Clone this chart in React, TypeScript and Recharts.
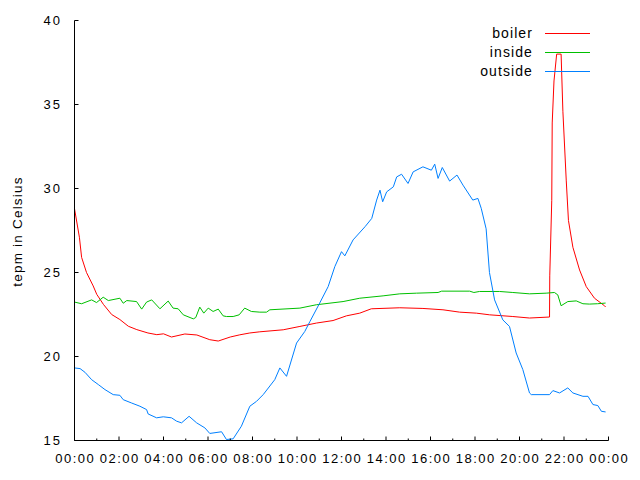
import { LineChart, Line, XAxis, YAxis, Legend } from "recharts";

// hours on the x axis (0 = 00:00, 24 = next 00:00)
const hourTicks = [0, 1, 2, 3, 4, 5, 6, 7, 8, 9, 10, 11, 12, 13, 14, 15, 16, 17, 18, 19, 20, 21, 22, 23, 24];
const tempTicks = [15, 20, 25, 30, 35, 40];

const boilerHours = [
  0, 0.22, 0.32, 0.54, 0.84, 1.0, 1.3, 1.67, 2.04, 2.42, 2.8, 3.3, 3.7, 4.0, 4.36, 4.96, 5.5, 6.08, 6.46,
  7.0, 7.43, 7.88, 8.33, 9.38, 10.13, 10.87, 11.62, 12.22, 12.82, 13.34, 14.62, 15.66, 16.56, 17.31,
  18.06, 18.66, 19.7, 20.45, 21.35, 21.36, 21.45, 21.47, 21.55, 21.67, 21.87, 21.95, 22.1, 22.2, 22.4,
  22.7, 23.0, 23.37, 23.82, 23.87,
];
const boilerTemps = [
  28.8, 27.1, 25.9, 25.0, 24.2, 23.7, 23.1, 22.5, 22.2, 21.8, 21.6, 21.4, 21.3, 21.35, 21.16, 21.34, 21.28,
  21.0, 20.92, 21.16, 21.29, 21.4, 21.47, 21.59, 21.79, 21.99, 22.14, 22.42, 22.58, 22.84, 22.9, 22.86,
  22.78, 22.64, 22.58, 22.48, 22.38, 22.29, 22.35, 24.8, 29.3, 33.9, 36.4, 38.0, 38.0, 34.6, 30.5, 28.1,
  26.5, 25.15, 24.16, 23.47, 23.02, 22.95,
];

const insideHours = [
  0, 0.32, 0.77, 0.99, 1.29, 1.52, 2.04, 2.19, 2.35, 2.79, 3.02, 3.24, 3.47, 3.84, 4.21, 4.43, 4.66, 4.89,
  5.34, 5.45, 5.63, 5.81, 6.01, 6.23, 6.46, 6.68, 6.83, 7.13, 7.4, 7.65, 7.95, 8.33, 8.63, 8.78, 10.13,
  10.87, 12.07, 12.82, 13.87, 14.62, 15.37, 16.34, 16.5, 17.76, 17.95, 18.2, 19.1, 19.7, 20.45, 21.2,
  21.57, 21.72, 21.87, 22.17, 22.55, 22.85, 23.14, 23.5, 23.87,
];
const insideTemps = [
  23.24, 23.14, 23.37, 23.21, 23.53, 23.33, 23.47, 23.17, 23.33, 23.27, 22.82, 23.24, 23.37, 22.84, 23.3,
  22.88, 22.84, 22.48, 22.24, 22.32, 22.94, 22.58, 22.88, 22.68, 22.82, 22.42, 22.38, 22.38, 22.48, 22.88,
  22.68, 22.64, 22.64, 22.78, 22.88, 23.08, 23.27, 23.47, 23.61, 23.73, 23.77, 23.81, 23.89, 23.89, 23.81,
  23.87, 23.87, 23.81, 23.73, 23.77, 23.81, 23.67, 23.02, 23.27, 23.31, 23.14, 23.12, 23.14, 23.18,
];

const outsideHours = [
  0, 0.25, 0.47, 0.77, 1.07, 1.37, 1.74, 2.04, 2.19, 2.57, 2.94, 3.24, 3.31, 3.69, 3.99, 4.36, 4.59, 4.81,
  5.15, 5.49, 5.86, 6.08, 6.61, 6.83, 7.13, 7.5, 7.88, 8.18, 8.48, 9.0, 9.23, 9.53, 9.98, 10.35, 10.58,
  11.02, 11.4, 11.7, 12.0, 12.15, 12.52, 13.06, 13.36, 13.58, 13.73, 13.85, 14.03, 14.33, 14.48, 14.7,
  14.99, 15.22, 15.66, 16.04, 16.19, 16.34, 16.53, 16.86, 17.19, 17.46, 17.9, 18.13, 18.28, 18.5, 18.65,
  18.88, 19.25, 19.55, 19.85, 20.15, 20.45, 20.53, 21.35, 21.5, 21.8, 22.17, 22.4, 22.85, 23.08, 23.3,
  23.52, 23.68, 23.87,
];
const outsideTemps = [
  19.32, 19.28, 19.06, 18.62, 18.33, 18.03, 17.73, 17.69, 17.43, 17.23, 17.04, 16.84, 16.58, 16.35, 16.41,
  16.35, 16.15, 16.05, 16.44, 16.05, 15.75, 15.42, 15.52, 15.06, 15.1, 15.85, 17.04, 17.33, 17.73, 18.62,
  19.32, 18.82, 20.8, 21.49, 22.08, 23.18, 24.16, 25.35, 26.24, 25.99, 26.94, 27.73, 28.22, 29.31, 29.9,
  29.21, 29.8, 30.1, 30.69, 30.85, 30.3, 30.99, 31.29, 31.09, 31.45, 30.6, 31.25, 30.44, 30.8, 30.2, 29.31,
  29.41, 28.82, 27.6, 25.0, 23.37, 22.18, 21.79, 20.21, 19.22, 17.83, 17.73, 17.73, 17.97, 17.83, 18.13,
  17.83, 17.63, 17.63, 17.14, 17.08, 16.74, 16.7,
];

const toPoints = (hours: number[], temps: number[]) => hours.map((h, i) => ({ hour: h, temp: temps[i] }));

const seriesList = [
  { name: "boiler", color: "#ff0000", data: toPoints(boilerHours, boilerTemps) },
  { name: "inside", color: "#00c000", data: toPoints(insideHours, insideTemps) },
  { name: "outside", color: "#0080ff", data: toPoints(outsideHours, outsideTemps) },
];

const FONT = '"Liberation Sans", Arial, sans-serif';
const NUM_LS = 1.5;
const WORD_LS = 1.2;
const numStyle = { fontFamily: FONT, fontSize: 13, letterSpacing: NUM_LS, fill: "#000" };
const yNumStyle = { fontFamily: FONT, fontSize: 13, letterSpacing: 2, fill: "#000" };
const wordStyle = { fontFamily: FONT, fontSize: 13.5, letterSpacing: WORD_LS, fill: "#000" };

const fmtHour = (h: number) => `${String(h % 24).padStart(2, "0")}:00`;

// gnuplot style: ticks point into the plot box
const BottomTick = ({ x, y, payload }: any) => {
  const major = payload.value % 2 === 0;
  return (
    <g>
      <line x1={x} x2={x} y1={y} y2={y - (major ? 4 : 2)} stroke="#000" />
      {major && (
        <text x={x + NUM_LS / 2} y={y + 22.8} textAnchor="middle" style={numStyle}>
          {fmtHour(payload.value)}
        </text>
      )}
    </g>
  );
};

const TopTick = ({ x, y, payload }: any) => {
  const major = payload.value % 2 === 0;
  return <line x1={x} x2={x} y1={y} y2={y + (major ? 4 : 2)} stroke="#000" />;
};

const LeftTick = ({ x, y, payload }: any) => (
  <g>
    <line x1={x} x2={x + 4} y1={y} y2={y} stroke="#000" />
    <text x={x - 14.5 + 2} y={y + 4.6} textAnchor="end" style={yNumStyle}>
      {payload.value}
    </text>
  </g>
);

const RightTick = ({ x, y }: any) => <line x1={x} x2={x - 4} y1={y} y2={y} stroke="#000" />;

const YTitle = () => (
  <text x={22} y={231.5} transform="rotate(-90 22 231.5)" textAnchor="middle" style={wordStyle}>
    tepm in Celsius
  </text>
);

const LegendBox = ({ payload }: any) => (
  <div style={{ position: "relative", width: 640, height: 0 }}>
    {(payload ?? []).map((entry: any, i: number) => (
      <div
        key={entry.value}
        style={{ position: "absolute", left: 0, top: 25 + i * 19, width: 640, height: 16 }}
      >
        <span
          style={{
            position: "absolute",
            right: 640 - 533,
            top: 0,
            lineHeight: "16px",
            fontFamily: FONT,
            fontSize: 14,
            letterSpacing: 1.1,
            color: "#000",
            whiteSpace: "nowrap",
          }}
        >
          {entry.value}
        </span>
        <div style={{ position: "absolute", left: 545, width: 45, top: 8, height: 1, background: entry.color }} />
      </div>
    ))}
  </div>
);

export default function App() {
  return (
    <div style={{ position: "absolute", left: 0, top: 0, width: 640, height: 480, background: "#fff" }}>
      <LineChart width={640} height={480} margin={{ top: 20.5, right: 31.5, bottom: 0, left: 0 }}>
        <XAxis
          dataKey="hour"
          type="number"
          domain={[0, 24]}
          ticks={hourTicks}
          interval={0}
          height={39.5}
          tickSize={0}
          tickMargin={0}
          axisLine={{ stroke: "#000" }}
          tickLine={false}
          tick={<BottomTick />}
        />
        <XAxis
          xAxisId="top"
          orientation="top"
          dataKey="hour"
          type="number"
          domain={[0, 24]}
          ticks={hourTicks}
          interval={0}
          height={0}
          tickSize={0}
          tickMargin={0}
          axisLine={{ stroke: "#000" }}
          tickLine={false}
          tick={<TopTick />}
        />
        <YAxis
          type="number"
          domain={[15, 40]}
          ticks={tempTicks}
          interval={0}
          width={74.5}
          tickSize={0}
          tickMargin={0}
          axisLine={{ stroke: "#000" }}
          tickLine={false}
          tick={<LeftTick />}
          label={YTitle}
        />
        <YAxis
          yAxisId="right"
          orientation="right"
          type="number"
          domain={[15, 40]}
          ticks={tempTicks}
          interval={0}
          width={0}
          tickSize={0}
          tickMargin={0}
          axisLine={{ stroke: "#000" }}
          tickLine={false}
          tick={<RightTick />}
        />
        <Legend
          layout="horizontal"
          verticalAlign="middle"
          align="center"
          wrapperStyle={{ left: 0, top: 0, width: 640, height: 0 }}
          content={LegendBox}
        />
        {seriesList.map((s) => (
          <Line
            key={s.name}
            name={s.name}
            data={s.data}
            dataKey="temp"
            type="linear"
            stroke={s.color}
            strokeWidth={1}
            dot={false}
            activeDot={false}
            isAnimationActive={false}
          />
        ))}
      </LineChart>
    </div>
  );
}
